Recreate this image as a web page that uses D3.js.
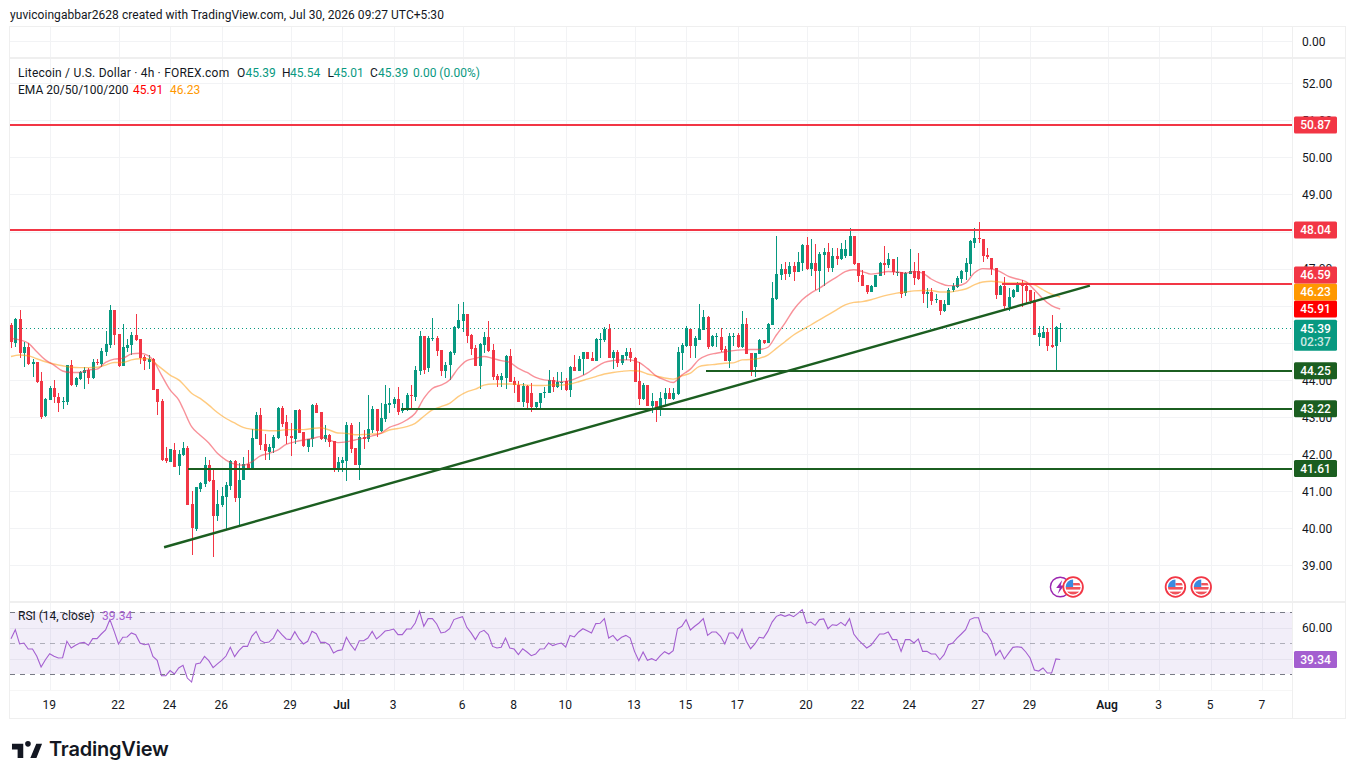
<!DOCTYPE html>
<html>
<head>
<meta charset="utf-8">
<title>Litecoin / U.S. Dollar 4h</title>
<script src="https://cdn.jsdelivr.net/npm/d3@7/dist/d3.min.js"></script>
<style>
  html, body { margin: 0; padding: 0; background: #fff; }
  svg { display: block; }
  text { font-family: Roboto, "Open Sans", sans-serif; font-size: 12px; }
</style>
</head>
<body>
<svg id="chart" width="1355" height="779"></svg>
<script>
// 4h candles, one row per ten bars
const opens = [
  45.48,45.01,45.65,44.74,44.90,44.43,44.49,43.97,43.01,43.46,
  43.77,43.55,43.39,43.41,44.40,43.86,44.02,44.20,44.27,44.06,
  44.48,44.43,44.76,44.94,45.89,45.24,44.39,44.86,44.93,45.21,
  45.10,44.61,44.48,44.56,43.75,43.43,41.89,41.80,42.12,41.67,
  41.97,42.16,40.65,39.98,41.07,41.19,41.70,41.30,40.32,40.62,
  40.84,41.13,41.81,40.83,41.30,41.73,41.60,42.40,43.05,42.27,
  42.07,42.17,42.44,43.25,42.86,42.48,42.41,43.19,42.59,42.20,
  42.42,43.32,43.13,42.40,42.51,42.35,41.59,41.75,41.80,42.78,
  42.16,41.71,42.46,42.40,42.65,43.21,42.63,42.94,43.32,43.35,
  43.48,43.17,43.18,43.59,43.55,44.24,45.19,44.32,45.10,45.13,
  44.81,44.24,44.39,44.74,45.41,45.59,45.78,45.21,44.86,44.38,
  44.94,45.16,44.81,44.10,44.00,44.07,44.65,43.96,43.86,43.40,
  43.84,43.65,43.26,43.38,43.64,43.66,44.00,43.81,43.92,43.97,
  43.73,44.35,44.24,44.55,44.74,44.59,44.51,45.08,45.08,45.38,
  44.59,44.75,44.46,44.65,44.75,44.59,43.97,43.48,43.86,43.30,
  43.43,43.21,43.48,43.65,43.48,43.62,44.73,44.92,45.37,44.90,
  45.08,45.35,45.70,44.90,45.14,45.15,44.82,44.51,45.18,45.21,
  44.88,45.51,44.72,44.36,44.70,45.07,44.99,45.48,46.18,46.83,
  46.99,46.86,47.08,46.91,47.16,47.64,46.99,47.16,46.94,47.37,
  47.46,47.02,47.35,47.26,47.35,47.35,47.89,47.16,46.83,46.56,
  46.37,46.51,46.81,47.16,47.10,47.26,46.88,46.92,46.35,46.86,
  46.93,46.93,46.94,46.30,46.36,46.15,46.16,45.85,46.02,46.40,
  46.49,46.73,46.91,47.13,47.69,47.82,47.80,47.37,47.29,47.01,
  46.29,46.54,45.98,46.21,46.38,46.56,46.54,46.43,46.16,45.17,
  45.15,45.30,44.93,44.90,45.39
];
const highs = [
  45.53,45.66,45.89,45.03,44.99,44.56,44.49,44.20,43.52,43.84,
  44.00,43.64,43.55,44.40,44.54,44.07,44.24,44.34,44.33,44.56,
  44.56,44.85,45.32,46.02,45.89,45.24,45.51,45.11,45.28,45.78,
  45.10,44.67,44.66,44.58,43.75,43.48,42.18,42.14,42.29,42.12,
  42.32,42.22,41.00,41.12,41.25,41.91,41.84,41.61,41.02,41.11,
  41.25,41.84,41.84,41.75,41.93,42.11,42.69,43.14,43.25,42.54,
  42.27,42.51,43.28,43.30,43.05,42.83,43.19,43.21,42.59,42.42,
  43.34,43.37,43.13,42.78,42.54,42.35,41.93,41.93,42.87,42.84,
  42.16,42.87,42.65,43.59,43.30,43.21,43.37,43.86,43.77,43.53,
  43.80,43.37,43.64,43.86,44.38,45.33,45.19,45.19,45.67,45.19,
  44.81,44.47,44.79,45.44,46.05,46.11,45.78,45.24,44.93,44.99,
  45.30,45.59,44.97,44.16,44.18,44.67,44.83,44.07,43.98,43.91,
  43.86,43.91,43.41,43.66,43.82,44.27,44.09,44.22,44.22,44.04,
  44.38,44.67,44.65,44.76,44.76,44.74,45.12,45.26,45.42,45.51,
  44.81,44.81,44.67,44.85,44.85,44.63,44.48,43.91,43.86,43.64,
  43.43,43.68,43.77,43.77,43.77,44.90,44.99,45.46,45.39,45.17,
  46.05,45.89,45.73,45.21,45.26,45.39,44.91,45.26,45.27,45.26,
  45.86,45.66,44.72,44.73,45.09,45.07,45.53,46.64,47.87,47.13,
  47.19,47.19,47.19,47.46,47.67,47.85,47.81,47.67,47.46,47.55,
  47.69,47.55,47.55,47.69,47.76,48.09,47.89,47.16,46.97,46.56,
  46.56,46.83,47.19,47.60,47.42,47.26,47.31,46.92,46.92,47.53,
  47.19,47.42,46.94,46.48,46.47,46.31,46.16,46.16,46.47,46.61,
  46.81,46.95,47.28,47.78,48.09,48.25,47.80,47.55,47.29,47.01,
  46.56,46.77,46.47,46.45,46.65,46.70,46.61,46.43,46.38,45.45,
  45.45,45.39,45.75,45.45,45.54
];
const lows = [
  44.85,44.88,44.58,44.36,44.40,44.07,43.91,42.95,43.01,43.46,
  43.37,43.14,43.22,43.32,43.84,43.81,44.00,43.75,43.88,44.02,
  44.39,44.36,44.65,44.85,44.94,44.36,44.39,44.76,44.67,45.05,
  44.43,44.27,44.30,43.73,43.05,41.81,41.76,41.79,41.67,41.43,
  41.95,40.62,39.27,39.94,40.98,41.11,41.24,39.22,40.21,40.57,
  39.96,41.02,40.71,40.08,41.30,41.62,41.60,42.40,42.12,41.84,
  41.85,42.02,42.42,42.74,42.27,41.94,42.27,42.57,42.20,42.06,
  42.20,43.10,42.38,42.33,42.20,41.52,41.53,41.53,41.28,42.02,
  41.70,41.30,42.15,42.33,42.56,42.47,42.60,42.87,43.10,43.23,
  43.05,43.11,43.17,43.23,43.43,44.13,44.16,44.20,45.06,44.65,
  44.11,44.04,44.00,44.67,45.39,45.30,44.99,44.67,44.38,43.75,
  44.72,44.75,44.00,43.82,43.80,43.75,43.93,43.66,43.40,43.28,
  43.19,43.13,43.20,43.22,43.50,43.65,43.68,43.77,43.73,43.71,
  43.55,44.24,44.24,44.13,44.56,44.51,44.51,44.58,45.01,44.59,
  44.30,44.36,44.40,44.54,44.49,43.94,43.32,43.46,43.30,43.10,
  42.87,43.02,43.32,43.48,43.47,43.59,44.27,44.88,44.60,44.60,
  45.08,45.35,44.82,44.88,44.88,44.76,44.51,44.33,44.92,44.86,
  44.85,44.70,44.11,44.09,44.70,44.96,44.99,45.48,46.16,46.70,
  46.68,46.77,46.67,46.91,46.94,46.97,46.79,46.43,46.38,46.52,
  46.92,46.92,47.10,47.24,47.28,47.35,47.10,46.65,46.54,46.32,
  46.37,46.50,46.79,46.83,47.01,46.83,46.79,46.20,46.27,46.86,
  46.55,46.70,46.07,45.95,46.02,46.07,45.75,45.84,46.02,46.37,
  46.47,46.61,46.70,46.79,47.55,47.69,47.19,47.26,46.83,46.18,
  46.29,45.91,45.87,46.20,46.38,45.96,46.07,46.05,45.21,44.91,
  45.15,44.79,44.85,44.25,45.01
];
const closes = [
  45.01,45.65,44.74,44.90,44.43,44.49,43.95,43.01,43.48,43.78,
  43.52,43.39,43.43,44.40,43.86,44.06,44.20,44.27,44.06,44.48,
  44.46,44.78,44.97,45.89,45.21,44.38,44.89,44.93,45.21,45.08,
  44.58,44.49,44.56,43.73,43.41,41.85,41.81,42.14,41.67,42.00,
  42.16,40.62,40.00,41.10,41.22,41.70,41.26,40.32,40.65,40.86,
  41.16,41.81,40.81,41.31,41.73,41.62,42.43,43.05,42.24,42.07,
  42.20,42.47,43.25,42.83,42.47,42.43,43.19,42.57,42.22,42.42,
  43.33,43.11,42.40,42.51,42.31,41.59,41.78,41.84,42.78,42.13,
  41.71,42.46,42.40,42.67,43.21,42.63,42.97,43.35,43.38,43.48,
  43.14,43.22,43.59,43.55,44.27,45.19,44.27,45.13,45.12,44.78,
  44.24,44.40,44.75,45.43,45.62,45.78,45.19,44.83,44.38,44.97,
  45.16,44.78,44.07,44.00,44.11,44.65,43.94,43.84,43.40,43.84,
  43.37,43.26,43.40,43.65,43.67,44.00,43.81,43.94,43.94,43.73,
  44.35,44.24,44.56,44.74,44.56,44.51,45.11,45.11,45.38,44.59,
  44.75,44.46,44.67,44.75,44.59,43.94,43.48,43.86,43.30,43.43,
  43.21,43.51,43.65,43.48,43.65,44.75,44.94,45.40,44.90,45.12,
  45.37,45.70,44.88,45.17,45.17,44.81,44.51,45.19,45.19,44.88,
  45.51,44.70,44.22,44.73,45.08,44.99,45.51,46.21,46.86,46.99,
  46.86,47.08,46.91,47.18,47.64,46.99,47.16,46.94,47.40,47.46,
  47.02,47.35,47.26,47.54,47.54,47.89,47.13,46.81,46.54,46.37,
  46.54,46.83,47.16,47.10,47.26,46.90,46.91,46.34,46.88,46.93,
  46.73,46.72,46.32,46.36,46.13,46.17,45.87,46.05,46.43,46.52,
  46.74,46.94,47.15,47.75,47.82,47.80,47.35,47.31,46.99,46.29,
  46.54,45.99,46.24,46.41,46.59,46.54,46.41,46.13,45.23,45.27,
  45.30,44.91,44.88,45.42,45.39
];

// moving averages, sampled at these bars
const emaBars = [
  0,2,4,6,8,10,12,14,16,18,20,22,24,26,28,30,32,33,35,37,39,40,
  42,44,46,48,50,52,54,56,58,60,62,64,66,68,70,72,74,76,78,80,
  82,84,86,88,90,92,94,96,98,100,102,104,106,108,110,112,114,116,118,120,
  122,124,126,128,130,132,134,136,138,140,142,144,146,148,150,152,154,156,158,160,
  162,164,166,168,170,172,174,176,178,180,182,184,186,188,190,192,194,196,198,200,
  202,204,206,208,210,212,214,216,218,220,222,224,226,228,230,232,234,236,238,240,
  242,244
];
const ema20 = [
  45.12,45.08,44.99,44.76,44.54,44.40,44.24,44.20,44.20,44.27,44.29,44.47,44.56,44.58,44.70,44.72,44.65,44.54,44.13,43.73,43.46,43.23,
  42.74,42.51,42.30,42.02,41.84,41.73,41.70,41.79,41.95,42.02,42.11,42.26,42.33,42.38,42.42,42.47,42.38,42.31,42.33,42.38,
  42.43,42.49,42.56,42.72,42.80,42.92,43.10,43.50,43.77,43.86,44.00,44.31,44.52,44.58,44.63,44.58,44.52,44.47,44.31,44.20,
  44.07,44.00,43.98,43.95,43.98,44.07,44.18,44.34,44.47,44.52,44.54,44.54,44.47,44.31,44.11,44.00,43.93,44.13,44.29,44.55,
  44.67,44.72,44.76,44.79,44.81,44.82,44.82,44.88,45.21,45.53,45.89,46.16,46.34,46.47,46.63,46.77,46.92,46.97,46.92,46.85,
  46.88,46.92,46.91,46.88,46.92,46.88,46.72,46.61,46.54,46.54,46.61,46.88,47.00,46.99,46.92,46.79,46.72,46.65,46.43,46.18,
  46.00,45.91
];
const ema50 = [
  44.63,44.67,44.65,44.57,44.49,44.43,44.38,44.34,44.33,44.33,44.34,44.40,44.47,44.47,44.54,44.57,44.57,44.50,44.31,44.13,44.00,43.89,
  43.64,43.50,43.32,43.12,42.96,42.84,42.72,42.67,42.65,42.63,42.63,42.66,42.66,42.66,42.69,42.71,42.65,42.57,42.56,42.52,
  42.53,42.54,42.56,42.65,42.69,42.74,42.83,43.02,43.19,43.28,43.37,43.55,43.68,43.75,43.86,43.89,43.89,43.89,43.88,43.86,
  43.85,43.85,43.87,43.86,43.89,43.95,44.02,44.09,44.16,44.20,44.23,44.25,44.24,44.16,44.11,44.05,44.02,44.11,44.18,44.36,
  44.40,44.42,44.45,44.46,44.54,44.55,44.58,44.67,44.85,45.03,45.21,45.35,45.48,45.62,45.75,45.89,46.02,46.09,46.11,46.16,
  46.23,46.29,46.34,46.37,46.40,46.41,46.41,46.37,46.37,46.40,46.45,46.56,46.64,46.66,46.64,46.61,46.61,46.61,46.56,46.43,
  46.31,46.23
];

// RSI(14) for every bar
const rsi = [
  52.8,58.6,49.4,50,46.1,46.1,41.4,34.5,39.2,43.1,
  41.4,40.3,40.5,51.1,46.8,48.5,50,50.4,48.5,52.8,
  52.8,55.8,58.4,65.1,57.5,49.4,53.7,53.9,56.5,55.4,
  50,48.9,49.4,41.4,38.8,28.9,28.9,32.2,30,33.9,
  35.6,27.4,24.8,36.5,37.1,41.4,38.6,34.1,36.5,38.8,
  41.6,47.2,41.2,45.1,47.8,47.8,54.3,57.5,51.7,50.2,
  50.6,53.2,58.6,55.4,52.6,52.2,57.3,52.6,49.4,51.1,
  57.5,56,50.4,50.4,48.9,43.5,45.1,45.7,53.7,48.9,
  45.3,51.5,51.5,53.2,57.5,52.6,54.9,57.7,58.2,59,
  55.4,55.4,59,59,62.9,70.4,60.8,65.7,65.7,62.3,
  56.5,57.1,59.2,65.1,66.1,67,60.1,56.5,52.2,56.9,
  58.2,55.4,47.8,46.8,47.2,53.2,46.8,46.1,42.5,46.3,
  44.2,41.8,42.9,46.1,46.3,50,48.3,49.4,
  50,47.4,54.9,53.9,57.1,59.2,57.9,56.5,62.5,62.7,
  65.7,53.2,54.9,51.5,53.7,54.9,53.2,44.6,38.6,44.2,
  38.8,39.9,38.6,41.8,44.4,42.9,45.1,59.2,60.8,65.1,
  58.4,60.8,62.9,65.7,54.9,57.1,57.1,54.3,49.4,56.5,
  56.5,52.8,59,51.1,46.3,49.4,53.7,53.2,57.5,63.5,
  67.2,68.3,67.2,68.3,67,69.1,71.5,62.9,63.5,61.4,
  65.1,65.5,59.2,61.8,61.4,63.3,61.2,65.7,55.8,52.2,
  49.4,46.8,48.5,52.2,55.8,55.8,57.1,52.2,52.2,44.6,
  52.2,52.2,50,52.6,44.6,44.6,42.9,42.9,39.2,42.5,
  48.9,50,53.2,55.8,58.6,65.1,66.3,66.3,57.5,55.8,
  51.1,42,45.3,39.7,43.5,47.2,47.6,47.2,44.2,40.3,
  32.6,31.9,33.9,30.6,30.6,39.7,39.34
];

// date labels and the bar each one falls on
const timeLabels = ["19","22","24","26","29","Jul","3","6","8","10","13","15","17","20","22","24","27","29","Aug","3","5","7"];
const timeBars   = [9,25,37,49,65,77,89,105,117,129,145,157,169,185,197,209,225,237,255,267,279,291];

const priceTicks = [39,40,41,42,43,44,45,46,47,48,49,50,51,52];
const rsiTicks = [40,60];
const rsiBand = [30,70];

// horizontal levels: price, first bar, colour
const levelPrices = [50.87,48.04,46.59,44.25,43.22,41.61];
const levelStarts = [-0.25,-0.25,230.5,161.7,90.7,41.2];
const levelColors = ["#f23645","#f23645","#f23645","#1b5e20","#1b5e20","#1b5e20"];

// rising support line: bar, price
const trendBars = [35.6,250.9];
const trendPrices = [39.49,46.54];

const lastClose = 45.39;
const lastCountdown = "02:37";
const ema20Last = 45.91;
const ema50Last = 46.23;
const rsiLast = 39.34;

const eventBars  = [244,247,270.8,276.8];
const eventKinds = ["bolt","flag","flag","flag"];

const headerText = "yuvicoingabbar2628 created with TradingView.com, Jul 30, 2026 09:27 UTC+5:30";
const symbolText = "Litecoin / U.S. Dollar · 4h · FOREX.com";
const ohlcKeys = ["O","H","L","C"];
const ohlcVals = ["45.39","45.54","45.01","45.39"];

const UP = "#089981", DOWN = "#f23645", INK = "#131722", GRID = "#f2f3f5", FRAME = "#efefef";
const PLOT_L = 10, PLOT_R = 1292, AXIS_R = 1345;

const svg = d3.select("#chart");
const x = d3.scaleLinear().domain([0,244]).range([11,1060.2]);
const y = d3.scaleLinear().domain([40,52]).range([528.3,83.1]);
const yRsi = d3.scaleLinear().domain([30,70]).range([674,612]);
const bars = d3.range(opens.length);

// panes and grid
const grid = svg.append("g").attr("shape-rendering","crispEdges");
grid.selectAll(".v").data(timeBars).join("line")
  .attr("x1",d=>Math.round(x(d))+.5).attr("x2",d=>Math.round(x(d))+.5)
  .attr("y1",27).attr("y2",690).attr("stroke",GRID);
grid.selectAll(".h").data(priceTicks).join("line")
  .attr("x1",PLOT_L).attr("x2",PLOT_R)
  .attr("y1",d=>Math.round(y(d))+.5).attr("y2",d=>Math.round(y(d))+.5).attr("stroke",GRID);
grid.append("line").attr("x1",PLOT_L).attr("x2",PLOT_R).attr("y1",41.5).attr("y2",41.5).attr("stroke",GRID);

grid.append("rect").attr("x",PLOT_L).attr("y",yRsi(rsiBand[1])).attr("width",PLOT_R-PLOT_L)
  .attr("height",yRsi(rsiBand[0])-yRsi(rsiBand[1])).attr("fill","#7e57c2").attr("fill-opacity",.1);
grid.selectAll(".r").data(rsiTicks).join("line")
  .attr("x1",PLOT_L).attr("x2",PLOT_R)
  .attr("y1",d=>Math.round(yRsi(d))+.5).attr("y2",d=>Math.round(yRsi(d))+.5).attr("stroke","#e6e3ef");

// separators and outer frame
const frame = svg.append("g").attr("stroke",FRAME).attr("fill","none").attr("shape-rendering","crispEdges");
frame.append("rect").attr("x",9.5).attr("y",26.5).attr("width",AXIS_R-9).attr("height",692).attr("stroke-width",1.5);
[57.5,601.5].forEach(v=>frame.append("line").attr("x1",PLOT_L).attr("x2",AXIS_R).attr("y1",v).attr("y2",v).attr("stroke-width",2));
frame.append("line").attr("x1",PLOT_R+.5).attr("x2",PLOT_R+.5).attr("y1",27).attr("y2",718);
frame.append("line").attr("x1",PLOT_L).attr("x2",PLOT_R).attr("y1",690.5).attr("y2",690.5).attr("stroke","#f6f6f6");

// candles
const candles = svg.append("g").attr("shape-rendering","crispEdges");
const col = i => closes[i] >= opens[i] ? UP : DOWN;
candles.selectAll(".wick").data(bars).join("rect")
  .attr("x",i=>Math.round(x(i))).attr("width",1)
  .attr("y",i=>y(highs[i])).attr("height",i=>Math.max(1,y(lows[i])-y(highs[i])))
  .attr("fill",col);
candles.selectAll(".body").data(bars).join("rect")
  .attr("x",i=>Math.round(x(i))-1).attr("width",3)
  .attr("y",i=>Math.round(y(Math.max(opens[i],closes[i]))))
  .attr("height",i=>Math.max(1,Math.round(Math.abs(y(opens[i])-y(closes[i])))))
  .attr("fill",col);

// moving averages
const emaLine = d3.line().x((d,k)=>x(emaBars[k])).y(d=>y(d)).curve(d3.curveMonotoneX);
svg.append("path").attr("d",emaLine(ema50)).attr("fill","none").attr("stroke","#ff9800").attr("stroke-opacity",.5).attr("stroke-width",1.4);
svg.append("path").attr("d",emaLine(ema20)).attr("fill","none").attr("stroke","#f23645").attr("stroke-opacity",.55).attr("stroke-width",1.4);

// last price marker
svg.append("line").attr("x1",PLOT_L).attr("x2",PLOT_R).attr("y1",Math.round(y(lastClose))+.5).attr("y2",Math.round(y(lastClose))+.5)
  .attr("stroke",UP).attr("stroke-dasharray","1 3").attr("shape-rendering","crispEdges");

// levels and the support line
svg.selectAll(".lvl").data(levelPrices).join("rect")
  .attr("x",(d,i)=>x(levelStarts[i])).attr("width",(d,i)=>PLOT_R-x(levelStarts[i]))
  .attr("y",d=>Math.round(y(d))-1).attr("height",2)
  .attr("fill",(d,i)=>levelColors[i]).attr("shape-rendering","crispEdges");
svg.append("line")
  .attr("x1",x(trendBars[0])).attr("y1",y(trendPrices[0]))
  .attr("x2",x(trendBars[1])).attr("y2",y(trendPrices[1]))
  .attr("stroke","#1b5e20").attr("stroke-width",2.4);

// RSI pane
svg.append("g").selectAll("line").data([70,50,30]).join("line")
  .attr("x1",PLOT_L).attr("x2",PLOT_R).attr("y1",d=>Math.round(yRsi(d))+.5).attr("y2",d=>Math.round(yRsi(d))+.5)
  .attr("stroke","#787b86").attr("stroke-dasharray","5 5").attr("stroke-opacity",d=>d===50?.55:1)
  .attr("shape-rendering","crispEdges");
svg.append("path").datum(rsi).attr("fill","none").attr("stroke","#a45fd0").attr("stroke-width",1.1)
  .attr("d",d3.line().x((d,i)=>x(i)).y(d=>yRsi(d)));

// economic event badges
const flagId = "flagClip";
svg.append("defs").append("clipPath").attr("id",flagId).append("circle").attr("r",7.5);
const badge = svg.append("g").selectAll("g").data(eventBars).join("g")
  .attr("transform",d=>`translate(${x(d)},587)`);
badge.filter((d,i)=>eventKinds[i]==="bolt").each(function(){
  const g = d3.select(this);
  g.append("circle").attr("r",9.8).attr("fill","#fff").attr("stroke","#9c27b0").attr("stroke-width",1.4);
  g.append("path").attr("d","M2,-7 L-4,1 L-0.5,1 L-2.5,7 L4,-1.5 L0.5,-1.5 Z").attr("fill","#9c27b0");
});
badge.filter((d,i)=>eventKinds[i]==="flag").each(function(){
  const g = d3.select(this);
  g.append("circle").attr("r",9.8).attr("fill","#fff").attr("stroke","#f23645").attr("stroke-width",1.8);
  const f = g.append("g").attr("clip-path",`url(#${flagId})`);
  f.append("rect").attr("x",-8).attr("y",-8).attr("width",16).attr("height",16).attr("fill","#fff");
  f.append("rect").attr("x",0).attr("y",-4).attr("width",8).attr("height",2.4).attr("fill","#f0525a");
  f.append("rect").attr("x",-8).attr("y",0).attr("width",16).attr("height",2.6).attr("fill","#f0525a");
  f.append("rect").attr("x",-8).attr("y",4.6).attr("width",16).attr("height",3.4).attr("fill","#f0525a");
  f.append("rect").attr("x",-8).attr("y",-8).attr("width",8).attr("height",8).attr("fill","#3a8be0");
});

// price and time axes
const axisR = svg.append("g").attr("transform",`translate(1295,0.5)`)
  .call(d3.axisRight(y).tickValues(priceTicks).tickSize(0).tickPadding(7).tickFormat(d3.format(".2f")));
axisR.select(".domain").remove();
axisR.selectAll("text").attr("fill",INK).style("font-size","12px");

const axisTop = svg.append("g").attr("transform",`translate(1295,0)`)
  .call(d3.axisRight(d3.scaleLinear().domain([0,1]).range([42,-100])).tickValues([0]).tickSize(0).tickPadding(7).tickFormat(d3.format(".2f")));
axisTop.select(".domain").remove();
axisTop.selectAll("text").attr("fill",INK).style("font-size","12px");

const axisRsi = svg.append("g").attr("transform",`translate(1295,0)`)
  .call(d3.axisRight(yRsi).tickValues([60]).tickSize(0).tickPadding(7).tickFormat(d3.format(".2f")));
axisRsi.select(".domain").remove();
axisRsi.selectAll("text").attr("fill",INK).style("font-size","12px");

const axisB = svg.append("g").attr("transform","translate(-1,697)")
  .call(d3.axisBottom(x).tickValues(timeBars).tickSize(0).tickPadding(3).tickFormat((d,i)=>timeLabels[i]));
axisB.select(".domain").remove();
axisB.selectAll("text").attr("fill",INK).style("font-size","12px")
  .style("font-weight",(d,i)=>/[A-Za-z]/.test(timeLabels[i])?"600":"400");

// value tags along the right edge, pushed apart when they would overlap
const TAG_H = 17;
const tags = levelPrices.map((p,i)=>({p,color:levelColors[i]}))
  .concat([{p:ema50Last,color:"#ff9800"},{p:ema20Last,color:"#ff0000"}])
  .sort((a,b)=>a.p-b.p);
let prevCy = Infinity;
tags.forEach(t=>{ t.cy = Math.min(y(t.p), prevCy-TAG_H); prevCy = t.cy; });
const tagG = svg.append("g").selectAll("g").data(tags).join("g");
tagG.append("rect").attr("x",1294).attr("width",43).attr("y",d=>d.cy-TAG_H/2).attr("height",TAG_H)
  .attr("rx",1.5).attr("fill",d=>d.color);
tagG.append("text").attr("x",1315.5).attr("y",d=>d.cy+4.3).attr("text-anchor","middle")
  .attr("fill","#fff").style("font-weight",500).text(d=>d.p.toFixed(2));

const ly = y(lastClose);
svg.append("rect").attr("x",1294).attr("width",43).attr("y",ly-8.5).attr("height",31).attr("rx",1.5).attr("fill",UP);
svg.append("text").attr("x",1315.5).attr("y",ly+4.3).attr("text-anchor","middle").attr("fill","#fff").style("font-weight",500).text(lastClose.toFixed(2));
svg.append("text").attr("x",1315.5).attr("y",ly+18).attr("text-anchor","middle").attr("fill","#fff").attr("fill-opacity",.8).style("font-weight",500).text(lastCountdown);

const ry = yRsi(rsiLast);
svg.append("rect").attr("x",1294).attr("width",43).attr("y",ry-8.5).attr("height",TAG_H).attr("rx",1.5).attr("fill","#a45fd0");
svg.append("text").attr("x",1315.5).attr("y",ry+4.3).attr("text-anchor","middle").attr("fill","#fff").style("font-weight",500).text(rsiLast.toFixed(2));

// legends
svg.append("text").attr("x",10).attr("y",19).attr("fill",INK).style("letter-spacing","0.05px").text(headerText);
svg.append("text").attr("x",18).attr("y",77).attr("fill",INK).style("letter-spacing","0.2px").text(symbolText);
const keyX = [237,282,327.5,370], valX = [245.5,290,333.5,378];
ohlcKeys.forEach((k,i)=>{
  svg.append("text").attr("x",keyX[i]).attr("y",77).attr("fill",INK).text(k);
  svg.append("text").attr("x",valX[i]).attr("y",77).attr("fill",UP).text(ohlcVals[i]);
});
svg.append("text").attr("x",413).attr("y",77).attr("fill",UP).text("0.00 (0.00%)");
svg.append("text").attr("x",18).attr("y",94).attr("fill",INK).text("EMA 20/50/100/200");
svg.append("text").attr("x",133).attr("y",94).attr("fill","#ff0000").text(ema20Last.toFixed(2));
svg.append("text").attr("x",170).attr("y",94).attr("fill","#ff9800").text(ema50Last.toFixed(2));
svg.append("text").attr("x",18).attr("y",620).attr("fill",INK).text("RSI (14, close)");
svg.append("text").attr("x",102).attr("y",620).attr("fill","#a45fd0").text(rsiLast.toFixed(2));

// wordmark
const logo = svg.append("g");
logo.append("path").attr("transform","translate(10.1,738.2) scale(0.94)").attr("fill","#131722")
  .attr("d","M14 6H2v6h6v9h6V6Zm14 15h-6.48l6.3-15H34l-6 15ZM22 6a3 3 0 1 1-6 0 3 3 0 0 1 6 0Z");
logo.append("text").attr("x",49).attr("y",756).attr("fill","#131722")
  .style("font-family","Inter, Roboto, sans-serif").style("font-size","20px").style("font-weight","600").style("letter-spacing","-0.2px").text("TradingView");
</script>
</body>
</html>
